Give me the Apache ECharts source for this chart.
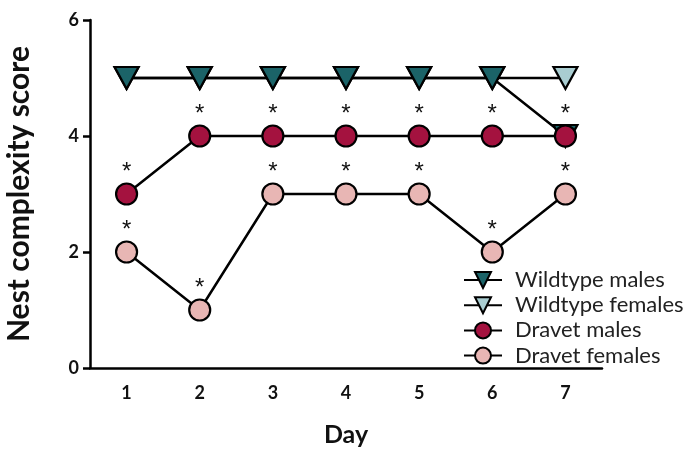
<!DOCTYPE html>
<html>
<head>
<meta charset="utf-8">
<script src="https://cdn.jsdelivr.net/npm/echarts@6/dist/echarts.min.js"></script>
<style>
  html, body { margin: 0; padding: 0; background: #fff; }
  #chart { width: 687px; height: 449px; }
</style>
</head>
<body>
<div id="chart"></div>
<script>
// Nest complexity score per day for each group
var days = ['1', '2', '3', '4', '5', '6', '7'];
var wildtypeMales = [5, 5, 5, 5, 5, 5, 4];
var wildtypeFemales = [5, 5, 5, 5, 5, 5, 5];
var dravetMales = [3, 4, 4, 4, 4, 4, 4];
var dravetFemales = [2, 1, 3, 3, 3, 2, 3];
var yTicks = [0, 2, 4, 6];
var groupOrder = ['Wildtype males', 'Wildtype females', 'Dravet males', 'Dravet females'];

var FONT = 'Lato, "Open Sans", sans-serif';
var downTriangle = 'path://M0,0 L20,0 L10,18 Z';

function makeSeries(name, data, symbol, color, size, starred) {
  return {
    name: name,
    type: 'line',
    data: data,
    symbol: symbol,
    symbolSize: size,
    showAllSymbol: true,
    lineStyle: { color: '#000', width: 2.5 },
    itemStyle: { color: color, borderColor: '#000', borderWidth: 2.2 },
    label: starred ? {
      show: true,
      position: 'top',
      distance: -2,
      formatter: '*',
      fontSize: 24,
      fontFamily: '"Liberation Sans", Arial, sans-serif',
      color: '#111'
    } : { show: false },
    emphasis: { disabled: true },
    animation: false
  };
}

var chart = echarts.init(document.getElementById('chart'), null, { renderer: 'canvas' });
chart.setOption({
  backgroundColor: '#fff',
  animation: false,
  grid: { left: 90, right: 85, top: 20, bottom: 81, containLabel: false, outerBoundsMode: 'none' },
  legend: {
    left: 458,
    top: 264,
    orient: 'vertical',
    itemWidth: 38,
    itemHeight: 20,
    itemGap: 3.2,
    textStyle: { fontSize: 22, lineHeight: 20, fontFamily: FONT, color: '#222', padding: [0, 0, 0, 8] },
    data: groupOrder
  },
  xAxis: {
    type: 'category',
    data: days,
    boundaryGap: true,
    name: 'Day',
    nameLocation: 'middle',
    nameGap: 54,
    nameTextStyle: { fontSize: 25, fontWeight: 'bold', fontFamily: FONT, color: '#111' },
    axisLine: { lineStyle: { color: '#000', width: 2.5 } },
    axisTick: { alignWithLabel: true, length: 7, lineStyle: { color: '#000', width: 2.5 } },
    axisLabel: { fontSize: 18, fontWeight: 'bold', fontFamily: FONT, color: '#111', margin: 16 },
    splitLine: { show: false }
  },
  yAxis: {
    type: 'value',
    min: yTicks[0],
    max: yTicks[yTicks.length - 1],
    interval: 2,
    name: 'Nest complexity score',
    nameLocation: 'middle',
    nameGap: 56,
    nameRotate: 90,
    nameTextStyle: { fontSize: 30, fontWeight: 'bold', fontFamily: FONT, color: '#111' },
    axisLine: { show: true, lineStyle: { color: '#000', width: 2.5 } },
    axisTick: { show: true, length: 7, lineStyle: { color: '#000', width: 2.5 } },
    axisLabel: { fontSize: 18, fontWeight: 'bold', fontFamily: FONT, color: '#111', margin: 11 },
    splitLine: { show: false }
  },
  // Females drawn first so the dark male triangles sit on top where they coincide
  series: [
    makeSeries('Wildtype females', wildtypeFemales, downTriangle, '#a9cdd1', [24, 22], false),
    makeSeries('Wildtype males', wildtypeMales, downTriangle, '#1b6368', [24, 22], false),
    makeSeries('Dravet males', dravetMales, 'circle', '#a4123f', 21, true),
    makeSeries('Dravet females', dravetFemales, 'circle', '#e8b6b4', 21, true)
  ]
});
</script>
</body>
</html>
